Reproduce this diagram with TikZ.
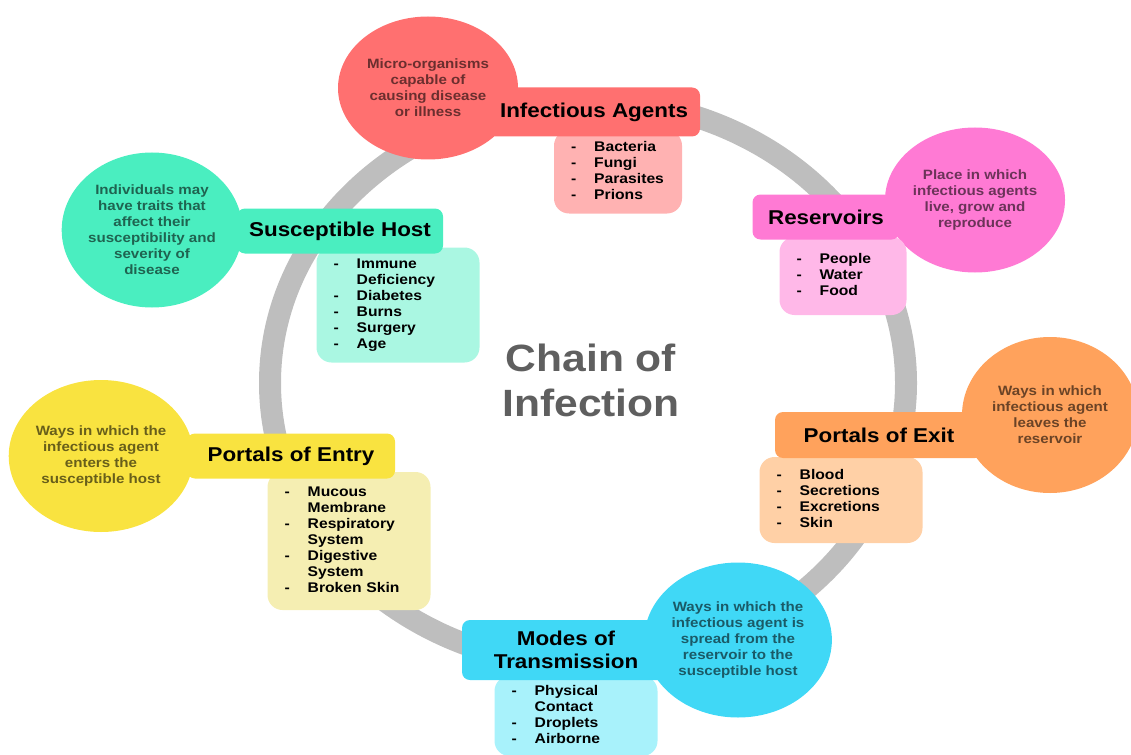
\documentclass[tikz,border=0pt]{standalone}
\usepackage{fontspec}
\setmainfont{Liberation Sans}[FakeStretch=1.12]
\usetikzlibrary{shapes.geometric}
\definecolor{ringgray}{RGB}{190,190,190}
\definecolor{rouge}{RGB}{255,112,112}
\definecolor{rougepale}{RGB}{255,178,178}
\definecolor{rose}{RGB}{255,122,212}
\definecolor{rosepale}{RGB}{255,184,232}
\definecolor{vert}{RGB}{74,238,192}
\definecolor{vertpale}{RGB}{170,247,226}
\definecolor{jaune}{RGB}{249,227,64}
\definecolor{jaunepale}{RGB}{245,238,178}
\definecolor{orangec}{RGB}{255,162,92}
\definecolor{orangepale}{RGB}{255,208,166}
\definecolor{cyanc}{RGB}{64,216,246}
\definecolor{cyanpale}{RGB}{168,242,251}
\definecolor{titlegray}{RGB}{95,95,95}
\newcommand{\titlefont}{\fontsize{20}{23}\selectfont\bfseries}
\newcommand{\bubblefont}{\fontsize{13.5}{16}\selectfont\bfseries}
\newcommand{\listfont}{\fontsize{14}{16}\selectfont\bfseries}
\newcommand{\itemlist}[1]{\begin{tabular}{@{}l@{\hspace{18pt}}l@{}}#1\end{tabular}}
\tikzset{
  bubble/.style={ellipse, fill=#1, inner sep=0pt, align=center, text=black, text opacity=0.58, font=\bubblefont},
  titlebar/.style={rounded corners=8pt, fill=#1, inner sep=0pt, align=center, font=\titlefont},
  itembox/.style={rounded corners=15pt, fill=#1, inner xsep=17pt, inner ysep=0pt, align=left, font=\listfont}
}

\begin{document}
\begin{tikzpicture}[x=1pt,y=-1pt]
\useasboundingbox (0,0) rectangle (1131,754);
% the ring
\draw [line width=22pt, ringgray] (588,383) ellipse (318 and 283);
\node [text=titlegray, font=\fontsize{38}{45}\selectfont\bfseries, align=center] (chain) at (591,380) {Chain of\\Infection};
% bubbles
\node [bubble=rouge, minimum width=180pt, minimum height=143pt] (agentsbubble) at (428,88) {Micro-organisms\\capable of\\causing disease\\or illness};
\node [bubble=rose, minimum width=180pt, minimum height=145pt] (reservbubble) at (975,200) {Place in which\\infectious agents\\live, grow and\\reproduce};
\node [bubble=vert, minimum width=176pt, minimum height=155pt] (hostbubble) at (152,230) {Individuals may\\have traits that\\affect their\\susceptibility and\\severity of\\disease};
\node [bubble=jaune, minimum width=178pt, minimum height=152pt] (entrybubble) at (101,456) {Ways in which the\\infectious agent\\enters the\\susceptible host};
\node [bubble=orangec, minimum width=176pt, minimum height=156pt] (exitbubble) at (1050,415) {Ways in which\\infectious agent\\leaves the\\reservoir};
\node [bubble=cyanc, minimum width=177pt, minimum height=155pt] (transbubble) at (738,640) {Ways in which the\\infectious agent is\\spread from the\\reservoir to the\\susceptible host};
% lists
\node [itembox=rougepale, text width=94pt, minimum height=83pt] (agentslist) at (618,172) {\itemlist{- & Bacteria\\ - & Fungi\\ - & Parasites\\ - & Prions}};
\node [itembox=rosepale, text width=93pt, minimum height=78pt] (reservlist) at (843,276) {\itemlist{- & People\\ - & Water\\ - & Food}};
\node [itembox=vertpale, text width=129pt, minimum height=115pt] (hostlist) at (398,305) {\itemlist{- & Immune\\ & Deficiency\\ - & Diabetes\\ - & Burns\\ - & Surgery\\ - & Age}};
\node [itembox=jaunepale, text width=129pt, minimum height=138pt] (entrylist) at (349,541) {\itemlist{- & Mucous\\ & Membrane\\ - & Respiratory\\ & System\\ - & Digestive\\ & System\\ - & Broken Skin}};
\node [itembox=orangepale, text width=129pt, minimum height=86pt] (exitlist) at (841,500) {\itemlist{- & Blood\\ - & Secretions\\ - & Excretions\\ - & Skin}};
\node [itembox=cyanpale, text width=129pt, minimum height=80pt] (translist) at (576,716) {\itemlist{- & Physical\\ & Contact\\ - & Droplets\\ - & Airborne}};
% title bars
\node [titlebar=rouge, minimum width=212pt, minimum height=49pt] (agentstitle) at (594,112) {Infectious Agents};
\node [titlebar=rose, minimum width=147pt, minimum height=45pt] (reservtitle) at (826,217) {Reservoirs};
\node [titlebar=vert, minimum width=206pt, minimum height=45pt] (hosttitle) at (340,231) {Susceptible Host};
\node [titlebar=jaune, minimum width=208pt, minimum height=45pt] (entrytitle) at (291,456) {Portals of Entry};
\node [titlebar=orangec, minimum width=208pt, minimum height=46pt] (exittitle) at (879,435) {Portals of Exit};
\node [titlebar=cyanc, minimum width=208pt, minimum height=60pt] (transtitle) at (566,650) {Modes of\\Transmission};
\end{tikzpicture}
\end{document}
